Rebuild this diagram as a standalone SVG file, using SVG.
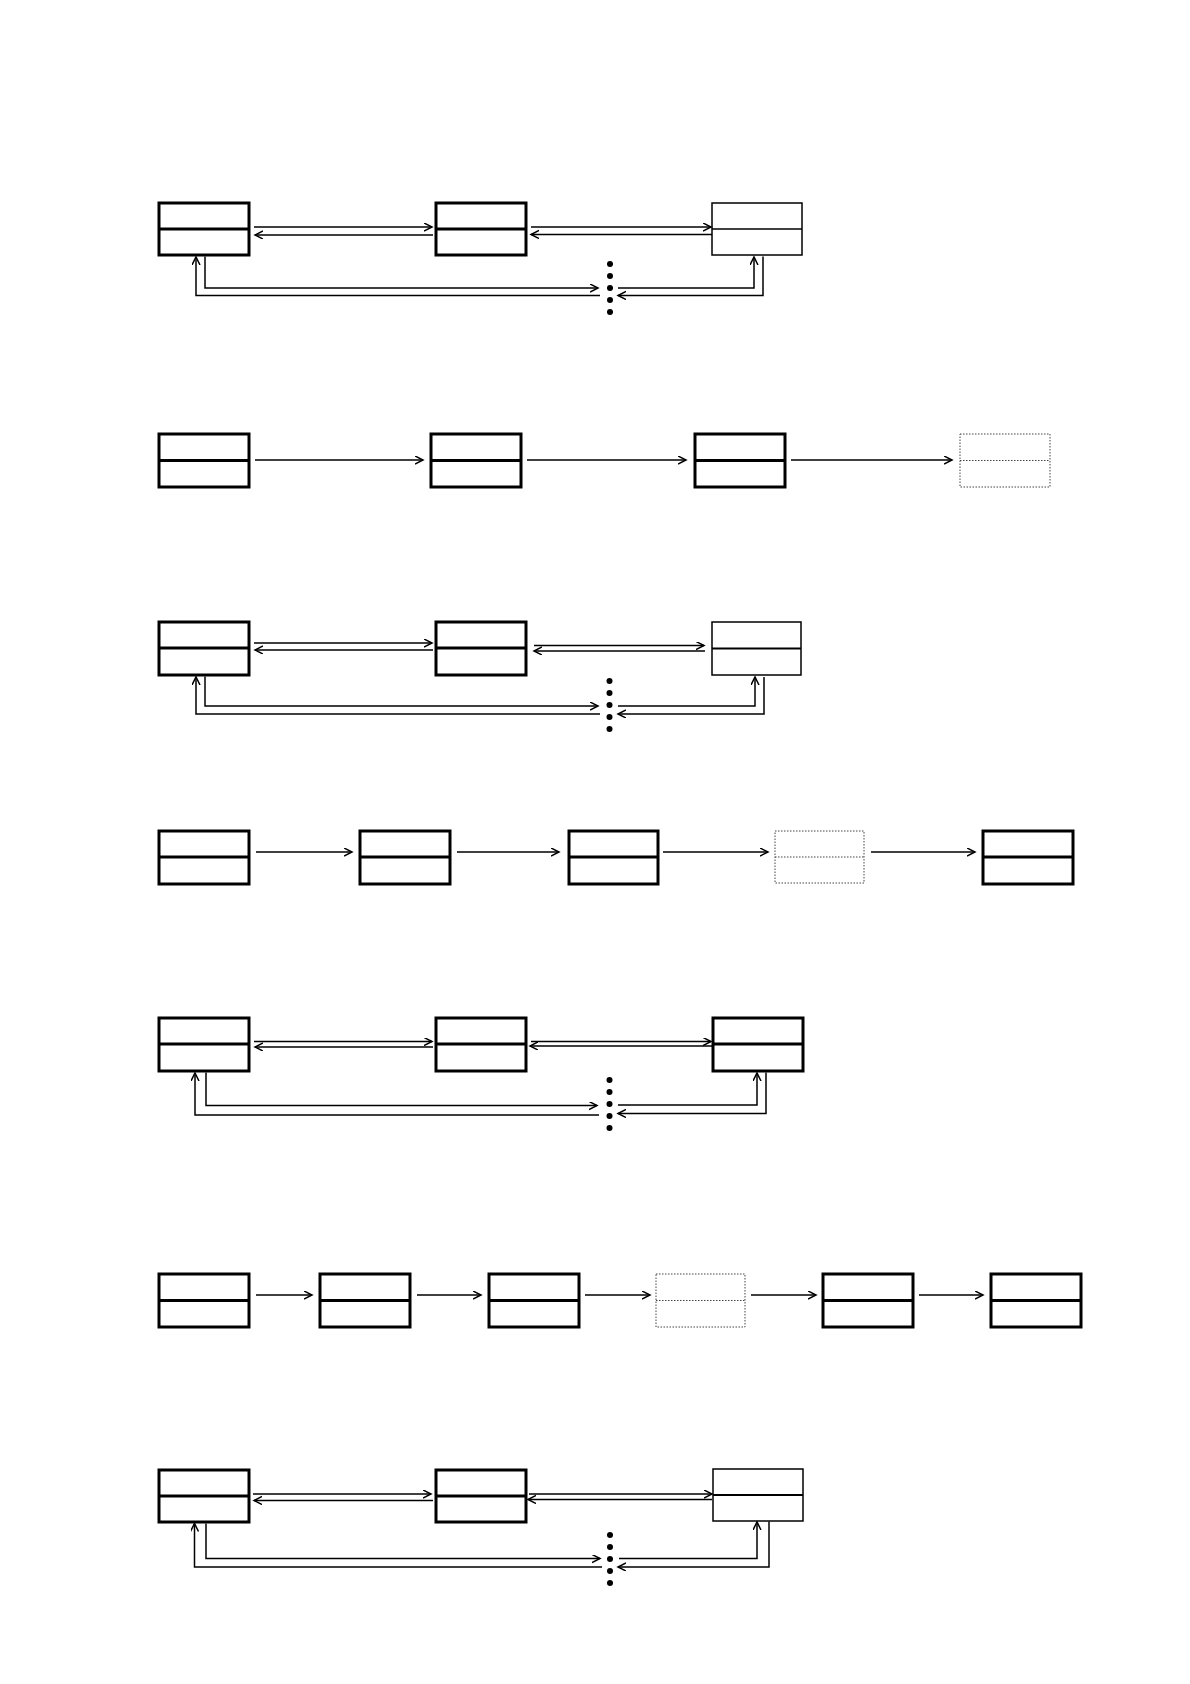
<svg xmlns="http://www.w3.org/2000/svg" width="1190" height="1684" viewBox="0 0 1190 1684">
<style>
.thick{fill:#fff;stroke:#000;stroke-width:3}
.thin{fill:#fff;stroke:#000;stroke-width:1.5}
.dot{fill:#fff;stroke:#444;stroke-width:1;stroke-dasharray:1.5 1.5}
.dv{stroke:#000;stroke-width:3}
.dvt{stroke:#000;stroke-width:1.3}
.dvd{stroke:#444;stroke-width:1;stroke-dasharray:1.5 1.5}
.c{fill:none;stroke:#000;stroke-width:1.5}
.e{fill:#000}
</style>
<defs>
<marker id="ah" markerUnits="userSpaceOnUse" markerWidth="12" markerHeight="12" refX="8" refY="4" orient="auto">
<path d="M0,0 L8,4 L0,8" fill="none" stroke="#000" stroke-width="1.5"/>
</marker>
</defs>
<rect width="1190" height="1684" fill="#fff"/>

<!-- Row 1 -->
<g id="r1a"><rect class="thick" x="159" y="203" width="90" height="52"/><line class="dv" x1="159" y1="229" x2="249" y2="229"/></g>
<g id="r1b"><rect class="thick" x="436" y="203" width="90" height="52"/><line class="dv" x1="436" y1="229" x2="526" y2="229"/></g>
<g id="r1c"><rect class="thin" x="712" y="203" width="90" height="52"/><line class="dvt" x1="712" y1="229" x2="802" y2="229"/></g>
<g id="r1dots"><circle class="e" cx="610" cy="264" r="3"/><circle class="e" cx="610" cy="276" r="3"/><circle class="e" cx="610" cy="288" r="3"/><circle class="e" cx="610" cy="300" r="3"/><circle class="e" cx="610" cy="312" r="3"/></g>

<!-- Row 2 -->
<g id="r2a"><rect class="thick" x="159" y="434" width="90" height="53"/><line class="dv" x1="159" y1="460.5" x2="249" y2="460.5"/></g>
<g id="r2b"><rect class="thick" x="431" y="434" width="90" height="53"/><line class="dv" x1="431" y1="460.5" x2="521" y2="460.5"/></g>
<g id="r2c"><rect class="thick" x="695" y="434" width="90" height="53"/><line class="dv" x1="695" y1="460.5" x2="785" y2="460.5"/></g>
<g id="r2d"><rect class="dot" x="960" y="434" width="90" height="53"/><line class="dvd" x1="960" y1="460.5" x2="1050" y2="460.5"/></g>

<!-- Row 3 -->
<g id="r3a"><rect class="thick" x="159" y="622" width="90" height="53"/><line class="dv" x1="159" y1="648" x2="249" y2="648"/></g>
<g id="r3b"><rect class="thick" x="436" y="622" width="90" height="53"/><line class="dv" x1="436" y1="648" x2="526" y2="648"/></g>
<g id="r3c"><rect class="thin" x="712" y="622" width="89" height="53"/><line class="dv" x1="712" y1="648.5" x2="801" y2="648.5" style="stroke-width:2"/></g>
<g id="r3dots"><circle class="e" cx="609.5" cy="681" r="3"/><circle class="e" cx="609.5" cy="693" r="3"/><circle class="e" cx="609.5" cy="705" r="3"/><circle class="e" cx="609.5" cy="717" r="3"/><circle class="e" cx="609.5" cy="729" r="3"/></g>

<!-- Row 4 -->
<g id="r4a"><rect class="thick" x="159" y="831" width="90" height="53"/><line class="dv" x1="159" y1="857" x2="249" y2="857"/></g>
<g id="r4b"><rect class="thick" x="360" y="831" width="90" height="53"/><line class="dv" x1="360" y1="857" x2="450" y2="857"/></g>
<g id="r4c"><rect class="thick" x="569" y="831" width="89" height="53"/><line class="dv" x1="569" y1="857" x2="658" y2="857"/></g>
<g id="r4d"><rect class="dot" x="775" y="831" width="89" height="52"/><line class="dvd" x1="775" y1="857" x2="864" y2="857"/></g>
<g id="r4e"><rect class="thick" x="983" y="831" width="90" height="53"/><line class="dv" x1="983" y1="857" x2="1073" y2="857"/></g>

<!-- Row 5 -->
<g id="r5a"><rect class="thick" x="159" y="1018" width="90" height="53"/><line class="dv" x1="159" y1="1044" x2="249" y2="1044"/></g>
<g id="r5b"><rect class="thick" x="436" y="1018" width="90" height="53"/><line class="dv" x1="436" y1="1044" x2="526" y2="1044"/></g>
<g id="r5c"><rect class="thick" x="713" y="1018" width="90" height="53"/><line class="dv" x1="713" y1="1044" x2="803" y2="1044"/></g>
<g id="r5dots"><circle class="e" cx="609.5" cy="1080" r="3"/><circle class="e" cx="609.5" cy="1092" r="3"/><circle class="e" cx="609.5" cy="1104" r="3"/><circle class="e" cx="609.5" cy="1116" r="3"/><circle class="e" cx="609.5" cy="1128" r="3"/></g>

<!-- Row 6 -->
<g id="r6a"><rect class="thick" x="159" y="1274" width="90" height="53"/><line class="dv" x1="159" y1="1300.5" x2="249" y2="1300.5"/></g>
<g id="r6b"><rect class="thick" x="320" y="1274" width="90" height="53"/><line class="dv" x1="320" y1="1300.5" x2="410" y2="1300.5"/></g>
<g id="r6c"><rect class="thick" x="489" y="1274" width="90" height="53"/><line class="dv" x1="489" y1="1300.5" x2="579" y2="1300.5"/></g>
<g id="r6d"><rect class="dot" x="656" y="1274" width="89" height="53"/><line class="dvd" x1="656" y1="1300.5" x2="745" y2="1300.5"/></g>
<g id="r6e"><rect class="thick" x="823" y="1274" width="90" height="53"/><line class="dv" x1="823" y1="1300.5" x2="913" y2="1300.5"/></g>
<g id="r6f"><rect class="thick" x="991" y="1274" width="90" height="53"/><line class="dv" x1="991" y1="1300.5" x2="1081" y2="1300.5"/></g>

<!-- Row 7 -->
<g id="r7a"><rect class="thick" x="159" y="1470" width="90" height="52"/><line class="dv" x1="159" y1="1496" x2="249" y2="1496"/></g>
<g id="r7b"><rect class="thick" x="436" y="1470" width="90" height="52"/><line class="dv" x1="436" y1="1496" x2="526" y2="1496"/></g>
<g id="r7c"><rect class="thin" x="713" y="1469" width="90" height="52"/><line class="dvt" x1="713" y1="1495" x2="803" y2="1495" style="stroke-width:2"/></g>
<g id="r7dots"><circle class="e" cx="610" cy="1535" r="3"/><circle class="e" cx="610" cy="1547" r="3"/><circle class="e" cx="610" cy="1559" r="3"/><circle class="e" cx="610" cy="1571" r="3"/><circle class="e" cx="610" cy="1583" r="3"/></g>

<g id="connectors" class="c" marker-end="url(#ah)">
<!-- row 1 -->
<path class="c" marker-end="url(#ah)" d="M254,227 H432"/>
<path class="c" marker-end="url(#ah)" d="M433,235 H255"/>
<path class="c" marker-end="url(#ah)" d="M531,227 H711"/>
<path class="c" marker-end="url(#ah)" d="M712,234.5 H531"/>
<path class="c" marker-end="url(#ah)" d="M205,256.5 V288 H598"/>
<path class="c" marker-end="url(#ah)" d="M618,288 H754 V257"/>
<path class="c" marker-end="url(#ah)" d="M763,256.5 V295.5 H618"/>
<path class="c" marker-end="url(#ah)" d="M600,295.5 H196 V257"/>
<!-- row 2 -->
<path class="c" marker-end="url(#ah)" d="M255,460 H423"/>
<path class="c" marker-end="url(#ah)" d="M527,460 H686"/>
<path class="c" marker-end="url(#ah)" d="M791,460 H952"/>
<!-- row 3 -->
<path class="c" marker-end="url(#ah)" d="M254,643 H432"/>
<path class="c" marker-end="url(#ah)" d="M433,650 H255"/>
<path class="c" marker-end="url(#ah)" d="M534,645.5 H704"/>
<path class="c" marker-end="url(#ah)" d="M705,651 H534"/>
<path class="c" marker-end="url(#ah)" d="M205,676.5 V706 H598"/>
<path class="c" marker-end="url(#ah)" d="M618,706 H755 V677"/>
<path class="c" marker-end="url(#ah)" d="M764,677 V714 H618"/>
<path class="c" marker-end="url(#ah)" d="M600,714 H196 V677"/>
<!-- row 4 -->
<path class="c" marker-end="url(#ah)" d="M256,852 H352"/>
<path class="c" marker-end="url(#ah)" d="M457,852 H559"/>
<path class="c" marker-end="url(#ah)" d="M663,852 H768"/>
<path class="c" marker-end="url(#ah)" d="M871,852 H975"/>
<!-- row 5 -->
<path class="c" marker-end="url(#ah)" d="M254,1041.5 H432"/>
<path class="c" marker-end="url(#ah)" d="M433,1047 H255"/>
<path class="c" marker-end="url(#ah)" d="M531,1041.5 H711"/>
<path class="c" marker-end="url(#ah)" d="M712,1046 H530"/>
<path class="c" marker-end="url(#ah)" d="M206,1072.5 V1105.5 H597"/>
<path class="c" marker-end="url(#ah)" d="M618,1105 H757 V1073"/>
<path class="c" marker-end="url(#ah)" d="M766,1072.5 V1113.5 H618"/>
<path class="c" marker-end="url(#ah)" d="M599,1115 H195 V1073"/>
<!-- row 6 -->
<path class="c" marker-end="url(#ah)" d="M256,1295 H312"/>
<path class="c" marker-end="url(#ah)" d="M417,1295 H481"/>
<path class="c" marker-end="url(#ah)" d="M585,1295 H650"/>
<path class="c" marker-end="url(#ah)" d="M751,1295 H816"/>
<path class="c" marker-end="url(#ah)" d="M919,1295 H983"/>
<!-- row 7 -->
<path class="c" marker-end="url(#ah)" d="M253,1494 H431"/>
<path class="c" marker-end="url(#ah)" d="M433,1500.5 H254"/>
<path class="c" marker-end="url(#ah)" d="M529,1494 H712"/>
<path class="c" marker-end="url(#ah)" d="M712,1499.5 H528"/>
<path class="c" marker-end="url(#ah)" d="M206,1523.5 V1558.5 H600"/>
<path class="c" marker-end="url(#ah)" d="M619,1558.5 H757 V1522"/>
<path class="c" marker-end="url(#ah)" d="M769,1521.5 V1567 H618"/>
<path class="c" marker-end="url(#ah)" d="M602,1567 H194.5 V1523.5"/>
</g>
</svg>
